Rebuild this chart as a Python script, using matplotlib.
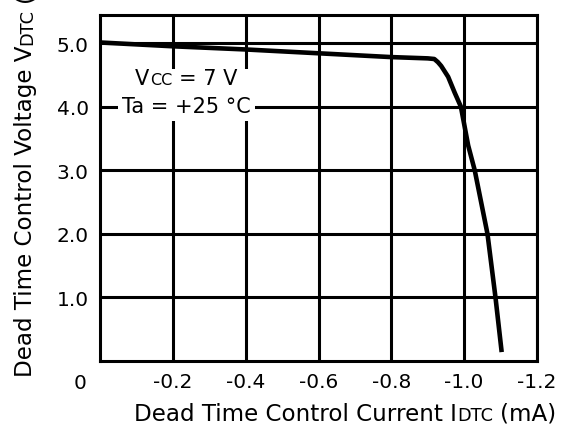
import matplotlib
matplotlib.use("Agg")
import matplotlib.pyplot as plt
from matplotlib.transforms import IdentityTransform
from matplotlib.patches import Rectangle

plt.rcParams['font.family'] = ['DejaVu Sans']

# Dead-time control voltage vs. current (Vcc = 7 V, Ta = +25 C)
current_ma = [0.0, -0.2, -0.4, -0.6, -0.8, -0.9, -0.918, -0.928, -0.937, -0.956,
              -0.974, -0.991, -1.011, -1.029, -1.064, -1.086, -1.103]
voltage_v = [5.01, 4.95, 4.90, 4.84, 4.78, 4.76, 4.75, 4.70, 4.64, 4.47,
             4.22, 4.00, 3.39, 3.00, 2.00, 1.00, 0.14]

x_ticks = [-0.2, -0.4, -0.6, -0.8, -1.0, -1.2]
x_tick_labels = ["-0.2", "-0.4", "-0.6", "-0.8", "-1.0", "-1.2"]
y_ticks = [1.0, 2.0, 3.0, 4.0, 5.0]
y_tick_labels = ["1.0", "2.0", "3.0", "4.0", "5.0"]

W, H, DPI = 563, 427, 100
fig = plt.figure(figsize=(W / DPI, H / DPI), dpi=DPI)
ax = fig.add_axes([100 / W, 1 - 362 / H, 437 / W, 346.5 / H])

TICK = 14.5
ax.set_xlim(0, -1.2)
ax.set_ylim(0, 5.45)
ax.set_xticks(x_ticks)
ax.set_xticklabels(x_tick_labels)
ax.set_yticks(y_ticks)
ax.set_yticklabels(y_tick_labels)
ax.tick_params(length=0, labelsize=TICK, colors='black')
ax.tick_params(axis='x', pad=8)
ax.tick_params(axis='y', pad=8)
ax.grid(True, color='black', linewidth=2.2)
ax.set_axisbelow(True)
for sp in ax.spines.values():
    sp.set_linewidth(2.2)
    sp.set_zorder(1)

# corner "0" label shared by both axes
ax.annotate("0", xy=(0, 0), xycoords='data', xytext=(-14.4, -8.5),
            textcoords='offset points', ha='center', va='top', fontsize=TICK)

# white patch behind the condition text
ax.add_patch(Rectangle((-0.05, 3.77), -0.377, 0.82, facecolor='white',
                       edgecolor='none', zorder=2))

ax.plot(current_ma, voltage_v, color='black', linewidth=3.3,
        solid_capstyle='butt', solid_joinstyle='round', zorder=4)

renderer = fig.canvas.get_renderer()
BIG, SMALL = 16.6, 12.8
NOTE, NOTE_SMALL = 15.0, 11.5


def draw_runs(runs, x, y, rotation=0, center=None):
    """Draw text runs of different sizes along one baseline (pixel coords)."""
    texts = []
    pos = 0.0
    for s, size, gap in runs:
        pos += gap
        if rotation == 0:
            t = fig.text(x + pos, y, s, fontsize=size, transform=IdentityTransform(),
                         ha='left', va='baseline')
            ext = t.get_window_extent(renderer)
            pos += ext.width
        else:
            t = fig.text(x, y + pos, s, fontsize=size, transform=IdentityTransform(),
                         ha='left', va='baseline', rotation=90, rotation_mode='anchor')
            ext = t.get_window_extent(renderer)
            pos += ext.height
        texts.append(t)
    if center is not None:
        shift = center - pos / 2 - (x if rotation == 0 else y)
        for t in texts:
            px, py = t.get_position()
            if rotation == 0:
                t.set_position((px + shift, py))
            else:
                t.set_position((px, py + shift))
    return texts


def space(size):
    return size * DPI / 72 * 0.318


# x axis label
draw_runs([("Dead Time Control Current I", BIG, 0),
           ("DTC", SMALL, 0.5),
           ("(mA)", BIG, space(BIG))], 0, H - 420.7, center=345)

# y axis label, running upward from near the bottom
draw_runs([("Dead Time Control Voltage V", BIG, 0),
           ("DTC", SMALL, 0.5),
           ("(V)", BIG, space(BIG))], 32, H - 377, rotation=90)

# operating condition text
t1 = draw_runs([("V", NOTE, 0), ("CC", NOTE_SMALL, 0.5), ("= 7 V", NOTE, space(NOTE))],
               0, H - 85, center=186)
t2 = draw_runs([("Ta = +25 \u00b0C", NOTE, 0)], 0, H - 113.3, center=186)
for t in t1 + t2:
    t.set_zorder(5)

fig.savefig("out.png", dpi=DPI)
